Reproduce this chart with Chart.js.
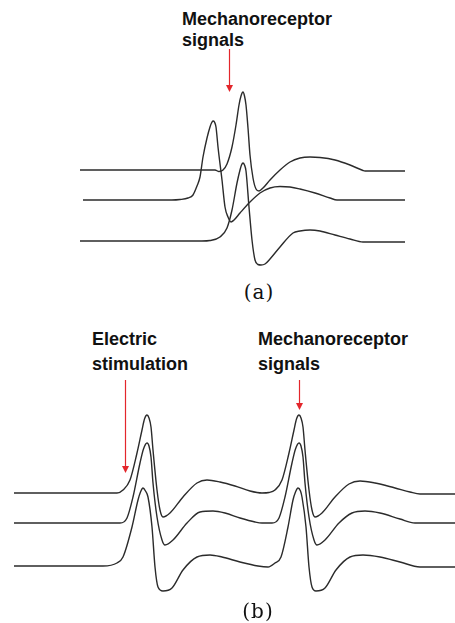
<!DOCTYPE html>
<html lang="en">
<head>
  <meta charset="UTF-8" />
  <title>Mechanoreceptor signals</title>
  <script src="https://cdn.jsdelivr.net/npm/chart.js"></script>
  <style>
    html, body { margin: 0; padding: 0; background: #fff; }
    #page { position: relative; width: 455px; height: 623px; overflow: hidden; }
    .plot { position: absolute; }
    .note { position: absolute; font-family: 'Liberation Sans', Arial, sans-serif; font-weight: bold;
            font-size: 18px; color: #111; white-space: nowrap; }
    .cap { position: absolute; width: 60px; text-align: center; font-family: 'DejaVu Serif', serif;
           font-size: 20px; line-height: 22px; letter-spacing: 1px; color: #111; }
    #arrows { position: absolute; left: 0; top: 0; pointer-events: none; }
  </style>
</head>
<body>
  <div id="page">
    <!-- panel (a) -->
    <div class="note" style="left:182px; top:9px; line-height:21px;">Mechanoreceptor<br>signals</div>
    <canvas id="chartA" class="plot" width="335" height="200" style="left:75px; top:80px;"></canvas>
    <div class="cap" style="left:229px; top:281px;">(a)</div>

    <!-- panel (b) -->
    <div class="note" style="left:92px; top:327px; line-height:24.6px;">Electric<br>stimulation</div>
    <div class="note" style="left:258px; top:327px; line-height:24.6px;">Mechanoreceptor<br>signals</div>
    <canvas id="chartB" class="plot" width="455" height="220" style="left:0px; top:390px;"></canvas>
    <div class="cap" style="left:228px; top:600px;">(b)</div>

    <svg id="arrows" width="455" height="623">
      <g stroke="#e3262b" stroke-width="1.2" fill="#e3262b">
        <line x1="229.5" y1="49" x2="229.5" y2="86" />
        <polygon points="226,85 233,85 229.5,92" stroke="none" />
        <line x1="125.5" y1="380" x2="125.5" y2="467" />
        <polygon points="122,466 129,466 125.5,473" stroke="none" />
        <line x1="299.5" y1="380" x2="299.5" y2="404" />
        <polygon points="296,403 303,403 299.5,410" stroke="none" />
      </g>
    </svg>
  </div>

  <script>
    // Panel (a): three traces, time in ms, amplitude relative to each trace baseline
    const aTopT = [0,27,27.8,28.6,29.4,30.4,31.2,31.8,32.2,32.6,32.9,33.2,33.6,34,34.6,35.2,35.8,36.6,38,40,42,44,46,48,51,54,56.6,57,65];
    const aTopV = [0,0,-0.15,0,0.6,2.3,4.5,6.5,7.4,7.8,7.4,6.5,4.2,1.5,-0.8,-1.9,-2.1,-1.8,-1.0,0,0.8,1.2,1.3,1.25,1.0,0.5,-0.05,-0.1,-0.1];

    const aMidT = [0.6,18.4,20,21.6,22.6,23.4,24,24.6,25.4,26,26.3,26.6,26.9,27.2,27.6,28.4,29,29.6,30.2,30.8,32,34,36,38,40,42,44,47,50,51.4,65];
    const aMidV = [0,0,0.05,0.2,0.5,1.4,2.3,4.3,6.2,7.3,7.7,7.9,7.8,7.3,5.3,2.0,-0.7,-1.7,-2.2,-2.0,-1.3,-0.2,0.7,1.2,1.35,1.3,1.1,0.7,0.2,0,0];

    const aBotT = [0,24.4,26,28,29.4,30.4,31.4,32,32.3,32.6,32.9,33.2,33.8,34.4,35,35.6,36.2,37,38,40,42.6,44,46,48,51,54,56.6,65];
    const aBotV = [0,0,0.05,0.4,1.3,3.1,5.8,7.1,7.6,7.8,7.6,7.0,3.4,0.1,-1.9,-2.35,-2.4,-2.3,-1.8,-0.6,0.8,1.0,1.1,1.0,0.6,0.2,-0.1,-0.1];

    const aOffsets = [0, -3.0, -7.1];

    // Panel (b): electric stimulation artefact followed by mechanoreceptor response
    const bTopT = [0,18.6,20.6,21.8,23.2,24.6,25.6,26.1,26.6,27.0,27.4,27.8,28.6,29.2,29.8,31.2,33.8,36.6,38.6,41.2,44.2,47.2,49.6,51,52.2,53.6,55,56,56.5,57,57.4,57.8,58.2,59,59.6,60.2,61.6,64.2,67,69.2,72.2,76.2,79.2,81.2,88.2];
    const bTopV = [0,0,0,0.3,1.3,4.0,6.3,7.4,7.8,7.5,6.6,4.3,0.3,-1.7,-2.4,-2.0,-0.4,1.0,1.3,1.1,0.7,0.2,0,0.05,0.3,1.3,4.0,6.3,7.4,7.8,7.5,6.6,4.3,0.3,-1.7,-2.4,-2.0,-0.4,0.9,1.2,1.0,0.5,0.1,-0.1,-0.1];

    const bMidT = [0,21.2,22.6,23.8,25.2,25.9,26.6,27.0,27.4,27.8,28.6,29.6,30.2,31.8,34.6,37.2,39.8,42.2,45.2,48.2,49.6,51.6,53,54.2,55.6,56.3,57,57.4,57.8,58.2,59,60,60.6,62.2,65,67.6,70.2,73.2,77.2,80.2,88.2];
    const bMidV = [0,0,0.5,2.6,6.0,7.4,8.0,7.7,6.6,4.0,0.6,-1.7,-2.2,-1.7,0,1.1,1.2,1.0,0.5,0.1,0,0,0.5,2.6,6.0,7.4,8.0,7.7,6.6,4.0,0.6,-1.7,-2.2,-1.7,0,1.0,1.2,1.0,0.4,0,0];

    const bBotT = [0,17.8,20.6,21.8,23.6,24.8,25.3,25.8,26.3,26.8,27.6,28.2,28.8,29.8,31.6,33.8,36.6,39.2,41.6,45.2,48.8,50.8,52.2,53.4,54.8,55.8,56.3,56.8,57.3,57.6,58.4,59,59.6,60.4,62.2,64.4,67.2,69.8,73.2,77.2,81.2,88.2];
    const bBotV = [0,0,0.3,0.9,3.9,6.6,7.4,7.8,7.5,6.9,3.9,-0.1,-2.1,-2.5,-2.2,-0.4,0.9,1.1,0.9,0.4,0,-0.1,0.3,0.9,3.9,6.6,7.4,7.8,7.5,6.9,3.9,-0.1,-2.1,-2.5,-2.2,-0.4,0.9,1.1,0.9,0.4,-0.1,-0.1];

    const bOffsets = [0, -3.0, -7.3];

    // stack a trace at its offset
    function trace(t, v, off) {
      return {
        data: t.map((x, i) => ({ x: x, y: v[i] + off })),
        borderColor: '#2b2b2b',
        borderWidth: 1.4,
        pointRadius: 0,
        fill: false,
        cubicInterpolationMode: 'monotone'
      };
    }

    function makeChart(id, datasets, xr, yr) {
      new Chart(document.getElementById(id), {
        type: 'line',
        data: { datasets: datasets },
        options: {
          responsive: false,
          animation: false,
          layout: { padding: 0 },
          plugins: { legend: { display: false }, tooltip: { enabled: false } },
          scales: {
            x: { type: 'linear', min: xr[0], max: xr[1], display: false },
            y: { min: yr[0], max: yr[1], display: false }
          }
        }
      });
    }

    makeChart('chartA', [
      trace(aTopT, aTopV, aOffsets[0]),
      trace(aMidT, aMidV, aOffsets[1]),
      trace(aBotT, aBotV, aOffsets[2])
    ], [-1, 66], [-11, 9]);

    makeChart('chartB', [
      trace(bTopT, bTopV, bOffsets[0]),
      trace(bMidT, bMidV, bOffsets[1]),
      trace(bBotT, bBotV, bOffsets[2])
    ], [-2.8, 88.2], [-11.7, 10.3]);
  </script>
</body>
</html>
